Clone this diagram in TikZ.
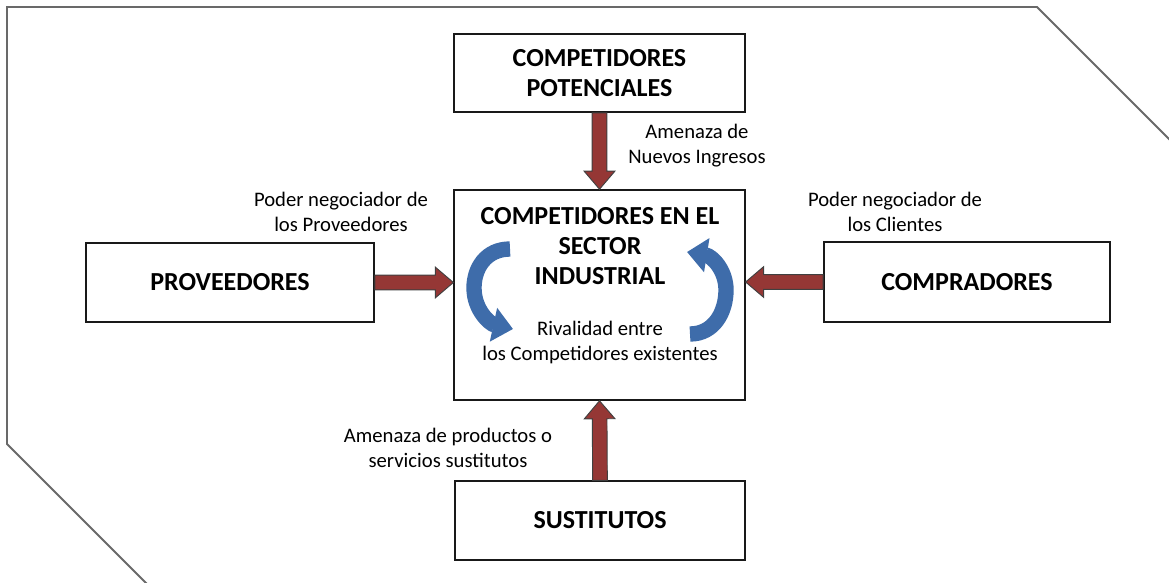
\documentclass[tikz,border=0pt]{standalone}
\usepackage{fontspec}
\setmainfont{Carlito}
\usetikzlibrary{calc,arrows.meta,shadows}

\definecolor{rojoflecha}{RGB}{149,55,53}
\definecolor{azulflecha}{RGB}{62,108,170}
\definecolor{marco}{RGB}{105,105,105}

% flecha de fuerza (bloque rojo) de #1 a #2
\newcommand{\fuerza}[2]{%
  \coordinate (hb) at ($(#2)!13.5pt!(#1)$);
  \filldraw[fuerza] ($(#1)!5.5pt!90:(#2)$) -- ($(hb)!5.5pt!90:(#2)$)
    -- ($(hb)!11.5pt!90:(#2)$) -- (#2) -- ($(hb)!11.5pt!-90:(#2)$)
    -- ($(hb)!5.5pt!-90:(#2)$) -- ($(#1)!5.5pt!-90:(#2)$) -- cycle;}

\begin{document}
\begin{tikzpicture}[x=0.75pt,y=-0.75pt,
  caja/.style={draw=black!90,line width=1.2pt,fill=white,align=center,
    font=\fontsize{19.5}{22}\selectfont\bfseries,
    drop shadow={opacity=0.18,shadow xshift=1pt,shadow yshift=-1pt}},
  etiqueta/.style={align=center,font=\fontsize{15.5}{18.75}\selectfont},
  fuerza/.style={fill=rojoflecha,draw=black!75,line width=0.7pt},
  rivalidad/.style={draw=azulflecha,line width=11.5pt,-{Triangle[length=15pt,width=25pt]}}]
\useasboundingbox (0,0) rectangle (1169,582);
\clip (0,0) rectangle (1169,582);

% marco
\draw[marco,line width=1.4pt] (150,587) -- (7,444) -- (7,7) -- (1037,7) -- (1180,150);

% las cinco fuerzas
\node[caja,minimum width=218pt,minimum height=58.5pt] (potenciales) at (599.5,73) {COMPETIDORES\\POTENCIALES};
\node[caja,minimum width=218pt,minimum height=157.5pt] (centro) at (599.5,295) {};
\node[caja,minimum width=216pt,minimum height=59pt] (proveedores) at (230,282.5) {PROVEEDORES};
\node[caja,minimum width=214.5pt,minimum height=60pt] (compradores) at (967,282) {COMPRADORES};
\node[caja,minimum width=217.5pt,minimum height=59pt] (sustitutos) at (600,520.5) {SUSTITUTOS};

\node[align=center,font=\fontsize{19.5}{22.5}\selectfont\bfseries] (sector) at (600,246) {COMPETIDORES EN EL\\SECTOR\\INDUSTRIAL};
\node[etiqueta] (rival) at (600,342) {Rivalidad entre\\los Competidores existentes};

\node[etiqueta] (l-nuevos) at (697,146) {Amenaza de\\Nuevos Ingresos};
\node[etiqueta] (l-prov) at (341,212) {Poder negociador de\\los Proveedores};
\node[etiqueta] (l-cli) at (895,212) {Poder negociador de\\los Clientes};
\node[etiqueta] (l-sust) at (448,448) {Amenaza de productos o\\servicios sustitutos};

\coordinate (c-prov) at (centro.west |- proveedores.east);
\coordinate (c-comp) at (centro.east |- compradores.west);
\fuerza{potenciales.south}{centro.north}
\fuerza{proveedores.east}{c-prov}
\fuerza{compradores.west}{c-comp}
\fuerza{sustitutos.north}{centro.south}

% rivalidad
\draw[rivalidad] (510,249) .. controls (486,249) and (474,268) .. (474,288) .. controls (474,310) and (490,324) .. (513,329);
\draw[rivalidad] (690,334) .. controls (714,334) and (726,312) .. (726,290) .. controls (726,270) and (712,256) .. (687,252);
\end{tikzpicture}
\end{document}
